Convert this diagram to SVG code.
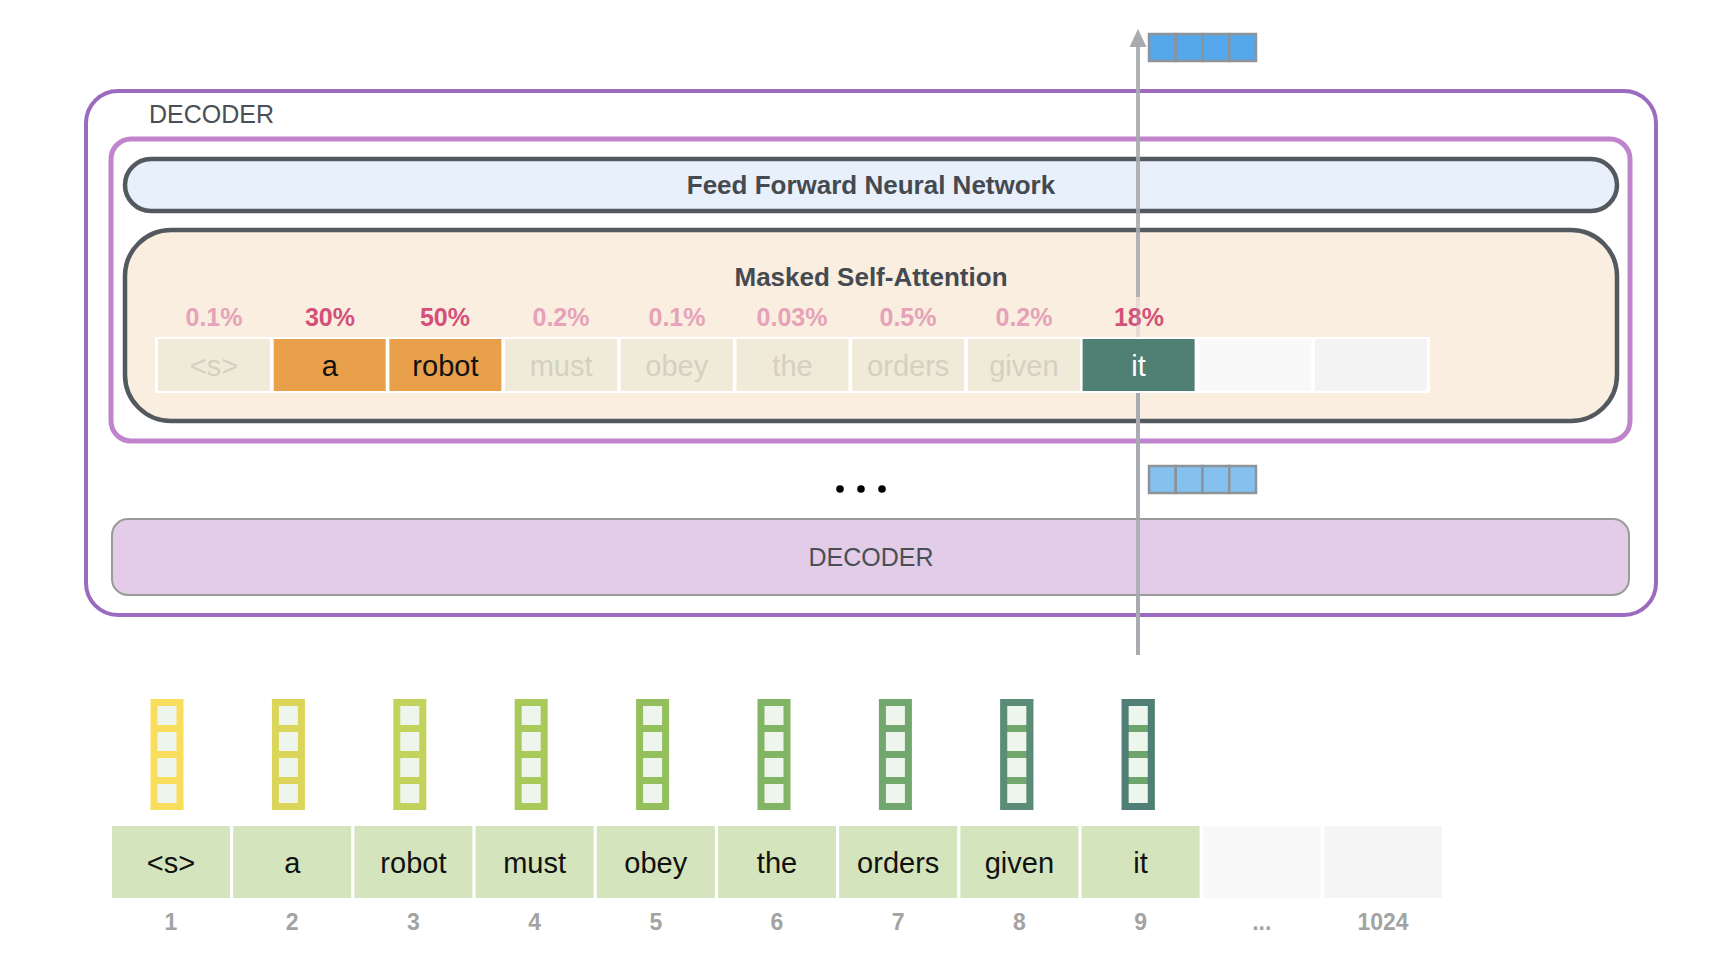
<svg xmlns="http://www.w3.org/2000/svg" width="1736" height="958" viewBox="0 0 1736 958">
<style>
text{font-family:"Liberation Sans",Arial,sans-serif}
.lbl{font-size:25px;fill:#4a4f55}
.bold{font-weight:bold;font-size:26px;fill:#454a50}
.pf{font-weight:bold;font-size:25px;fill:#e6a2b8;text-anchor:middle}
.ps{font-weight:bold;font-size:25px;fill:#d4507a;text-anchor:middle}
.tw{font-size:29px;text-anchor:middle}
.dim{fill:#f0ead8}
.dimt{fill:#d3d1c0}
.bw{font-size:29px;fill:#111;text-anchor:middle}
.num{font-size:23px;font-weight:bold;fill:#a3a3a3;text-anchor:middle}
.g{fill:#d4e4bc}
.in{fill:#eef5ed}
.blue{stroke:#8e9398;stroke-width:2.5}
.conn{stroke:#a8abaf;stroke-width:4}
</style>
<rect width="1736" height="958" fill="#fff"/>

<g id="outer-decoder">
<rect x="86" y="91" width="1570" height="524" rx="32" fill="#fff" stroke="#9b6bc0" stroke-width="4"/>
<text class="lbl" x="149" y="123">DECODER</text>
</g>

<g id="decoder-block">
<rect x="111" y="139" width="1519" height="302" rx="20" fill="#fff" stroke="#c084cc" stroke-width="5"/>
</g>

<g id="ffnn">
<rect x="125" y="159" width="1492" height="52" rx="26" fill="#e8f0fb" stroke="#54595f" stroke-width="4.5"/>
<text class="bold" x="871" y="194" text-anchor="middle">Feed Forward Neural Network</text>
</g>

<g id="masked-attention">
<rect x="125" y="230" width="1492" height="191" rx="46" fill="#faeee0" stroke="#54595f" stroke-width="4.5"/>
<text class="bold" x="871" y="286" text-anchor="middle">Masked Self-Attention</text>
<text class="pf" x="214" y="326">0.1%</text>
<text class="ps" x="330" y="326">30%</text>
<text class="ps" x="445" y="326">50%</text>
<text class="pf" x="561" y="326">0.2%</text>
<text class="pf" x="677" y="326">0.1%</text>
<text class="pf" x="792" y="326">0.03%</text>
<text class="pf" x="908" y="326">0.5%</text>
<text class="pf" x="1024" y="326">0.2%</text>
<text class="ps" x="1139" y="326">18%</text>
</g>

<g id="connectors">
<line class="conn" x1="1138" y1="655" x2="1138" y2="338"/>
<line class="conn" x1="1138" y1="338" x2="1138" y2="297" opacity="0.25"/>
<line class="conn" x1="1138" y1="297" x2="1138" y2="45" opacity="0.9"/>
<polygon points="1129.5,47 1138,29 1146.5,47" fill="#a8abaf"/>
</g>

<g id="attention-cells">
<rect x="155" y="337" width="1275" height="56" fill="#fff"/>
<rect class="dim" x="158" y="339" width="112" height="52"/>
<text class="tw dimt" x="214" y="376">&lt;s&gt;</text>
<rect x="273.7" y="339" width="112" height="52" fill="#e8a04a"/>
<text class="tw" x="329.7" y="376" fill="#111">a</text>
<rect x="389.4" y="339" width="112" height="52" fill="#e8a04a"/>
<text class="tw" x="445.4" y="376" fill="#111">robot</text>
<rect class="dim" x="505.1" y="339" width="112" height="52"/>
<text class="tw dimt" x="561.1" y="376">must</text>
<rect class="dim" x="620.8" y="339" width="112" height="52"/>
<text class="tw dimt" x="676.8" y="376">obey</text>
<rect class="dim" x="736.5" y="339" width="112" height="52"/>
<text class="tw dimt" x="792.5" y="376">the</text>
<rect class="dim" x="852.2" y="339" width="112" height="52"/>
<text class="tw dimt" x="908.2" y="376">orders</text>
<rect class="dim" x="967.9" y="339" width="112" height="52"/>
<text class="tw dimt" x="1023.9" y="376">given</text>
<rect x="1082.6" y="339" width="112" height="52" fill="#508074"/>
<text class="tw" x="1138.6" y="376" fill="#fff">it</text>
<rect x="1199.3" y="339" width="112" height="52" fill="#f9f9f9"/>
<rect x="1315" y="339" width="112" height="52" fill="#f4f4f4"/>
</g>

<g id="output-vector">
<rect class="blue" x="1149" y="34" width="26.75" height="27" fill="#55a7ec"/>
<rect class="blue" x="1175.75" y="34" width="26.75" height="27" fill="#55a7ec"/>
<rect class="blue" x="1202.5" y="34" width="26.75" height="27" fill="#55a7ec"/>
<rect class="blue" x="1229.25" y="34" width="26.75" height="27" fill="#55a7ec"/>
</g>

<g id="ellipsis">
<circle cx="840" cy="489" r="3.8" fill="#000"/>
<circle cx="861" cy="489" r="3.8" fill="#000"/>
<circle cx="882" cy="489" r="3.8" fill="#000"/>
</g>

<g id="mid-vector">
<rect class="blue" x="1149" y="466" width="26.75" height="27" fill="#85c1ef"/>
<rect class="blue" x="1175.75" y="466" width="26.75" height="27" fill="#85c1ef"/>
<rect class="blue" x="1202.5" y="466" width="26.75" height="27" fill="#85c1ef"/>
<rect class="blue" x="1229.25" y="466" width="26.75" height="27" fill="#85c1ef"/>
</g>

<g id="lower-decoder">
<rect x="112" y="519" width="1517" height="76" rx="16" fill="#e2cce8" stroke="#9a9a9a" stroke-width="2"/>
<text class="lbl" x="871" y="566" text-anchor="middle">DECODER</text>
</g>

<g id="line-over">
<line class="conn" x1="1138" y1="655" x2="1138" y2="398" opacity="0.85"/>
</g>

<g id="embeddings">
<g id="emb1"><rect x="150.5" y="699" width="33" height="111" fill="#f9de5e"/><rect class="in" x="157.5" y="706" width="19" height="19"/><rect class="in" x="157.5" y="732" width="19" height="19"/><rect class="in" x="157.5" y="758" width="19" height="19"/><rect class="in" x="157.5" y="784" width="19" height="19"/></g>
<g id="emb2"><rect x="271.9" y="699" width="33" height="111" fill="#dbd65a"/><rect class="in" x="278.9" y="706" width="19" height="19"/><rect class="in" x="278.9" y="732" width="19" height="19"/><rect class="in" x="278.9" y="758" width="19" height="19"/><rect class="in" x="278.9" y="784" width="19" height="19"/></g>
<g id="emb3"><rect x="393.3" y="699" width="33" height="111" fill="#c2d25a"/><rect class="in" x="400.3" y="706" width="19" height="19"/><rect class="in" x="400.3" y="732" width="19" height="19"/><rect class="in" x="400.3" y="758" width="19" height="19"/><rect class="in" x="400.3" y="784" width="19" height="19"/></g>
<g id="emb4"><rect x="514.7" y="699" width="33" height="111" fill="#a9c95a"/><rect class="in" x="521.7" y="706" width="19" height="19"/><rect class="in" x="521.7" y="732" width="19" height="19"/><rect class="in" x="521.7" y="758" width="19" height="19"/><rect class="in" x="521.7" y="784" width="19" height="19"/></g>
<g id="emb5"><rect x="636.1" y="699" width="33" height="111" fill="#93bf5d"/><rect class="in" x="643.1" y="706" width="19" height="19"/><rect class="in" x="643.1" y="732" width="19" height="19"/><rect class="in" x="643.1" y="758" width="19" height="19"/><rect class="in" x="643.1" y="784" width="19" height="19"/></g>
<g id="emb6"><rect x="757.5" y="699" width="33" height="111" fill="#82b563"/><rect class="in" x="764.5" y="706" width="19" height="19"/><rect class="in" x="764.5" y="732" width="19" height="19"/><rect class="in" x="764.5" y="758" width="19" height="19"/><rect class="in" x="764.5" y="784" width="19" height="19"/></g>
<g id="emb7"><rect x="878.9" y="699" width="33" height="111" fill="#72a86d"/><rect class="in" x="885.9" y="706" width="19" height="19"/><rect class="in" x="885.9" y="732" width="19" height="19"/><rect class="in" x="885.9" y="758" width="19" height="19"/><rect class="in" x="885.9" y="784" width="19" height="19"/></g>
<g id="emb8"><rect x="1000.3" y="699" width="33" height="111" fill="#72a86d"/><rect x="1003.8" y="702.5" width="26" height="104" fill="none" stroke="#5a8c78" stroke-width="7"/><rect class="in" x="1007.3" y="706" width="19" height="19"/><rect class="in" x="1007.3" y="732" width="19" height="19"/><rect class="in" x="1007.3" y="758" width="19" height="19"/><rect class="in" x="1007.3" y="784" width="19" height="19"/></g>
<g id="emb9"><rect x="1121.7" y="699" width="33" height="111" fill="#6ea56c"/><rect x="1125.2" y="702.5" width="26" height="104" fill="none" stroke="#4f7f76" stroke-width="7"/><rect class="in" x="1128.7" y="706" width="19" height="19"/><rect class="in" x="1128.7" y="732" width="19" height="19"/><rect class="in" x="1128.7" y="758" width="19" height="19"/><rect class="in" x="1128.7" y="784" width="19" height="19"/></g>
</g>

<g id="tokens">
<rect class="g" x="112" y="826" width="118" height="72"/><text class="bw" x="171" y="873">&lt;s&gt;</text>
<rect class="g" x="233.2" y="826" width="118" height="72"/><text class="bw" x="292.2" y="873">a</text>
<rect class="g" x="354.4" y="826" width="118" height="72"/><text class="bw" x="413.4" y="873">robot</text>
<rect class="g" x="475.6" y="826" width="118" height="72"/><text class="bw" x="534.6" y="873">must</text>
<rect class="g" x="596.8" y="826" width="118" height="72"/><text class="bw" x="655.8" y="873">obey</text>
<rect class="g" x="718" y="826" width="118" height="72"/><text class="bw" x="777" y="873">the</text>
<rect class="g" x="839.2" y="826" width="118" height="72"/><text class="bw" x="898.2" y="873">orders</text>
<rect class="g" x="960.4" y="826" width="118" height="72"/><text class="bw" x="1019.4" y="873">given</text>
<rect class="g" x="1081.6" y="826" width="118" height="72"/><text class="bw" x="1140.6" y="873">it</text>
<rect x="1202.8" y="826" width="118" height="72" fill="#f9f9f9"/>
<rect x="1324" y="826" width="118" height="72" fill="#f5f5f5"/>
</g>

<g id="positions">
<text class="num" x="171" y="930">1</text>
<text class="num" x="292.2" y="930">2</text>
<text class="num" x="413.4" y="930">3</text>
<text class="num" x="534.6" y="930">4</text>
<text class="num" x="655.8" y="930">5</text>
<text class="num" x="777" y="930">6</text>
<text class="num" x="898.2" y="930">7</text>
<text class="num" x="1019.4" y="930">8</text>
<text class="num" x="1140.6" y="930">9</text>
<text class="num" x="1261.8" y="930">...</text>
<text class="num" x="1383" y="930">1024</text>
</g>
</svg>
